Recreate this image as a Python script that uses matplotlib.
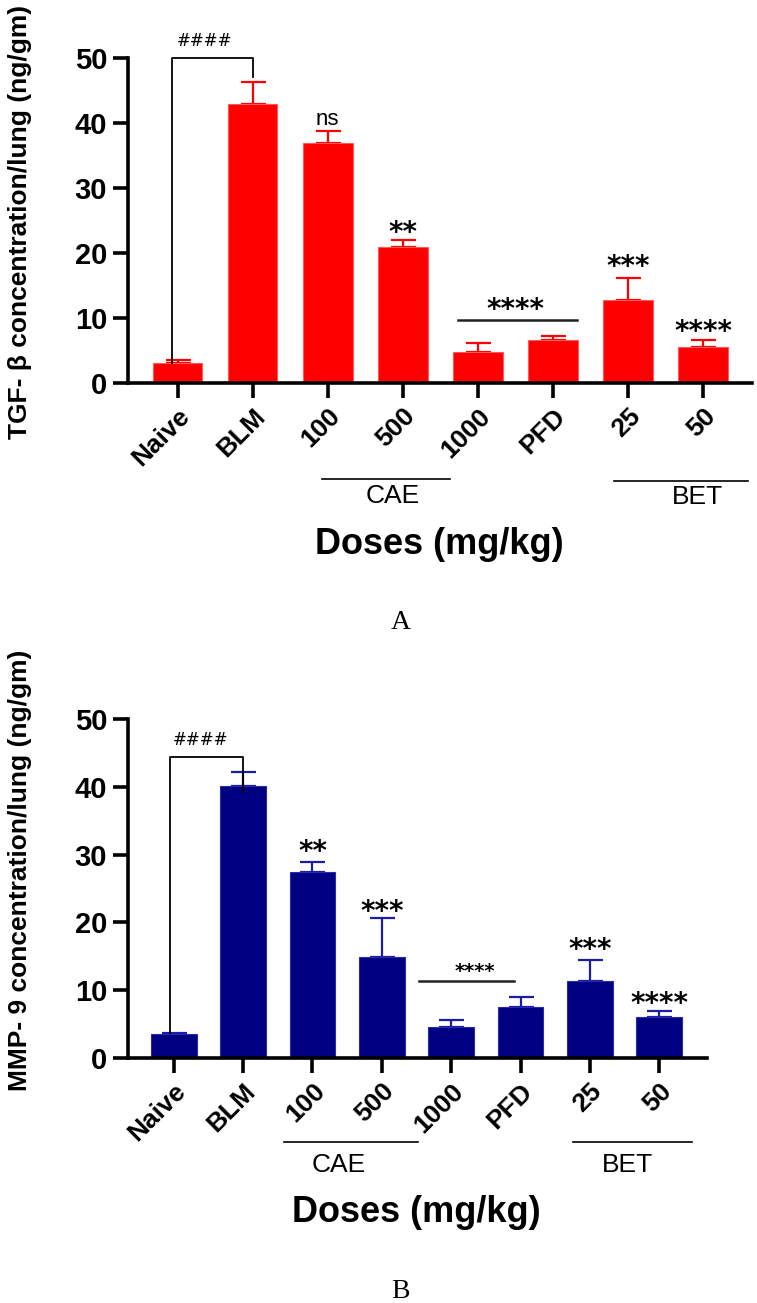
import numpy as np
import matplotlib
matplotlib.use("Agg")
import matplotlib.pyplot as plt

plt.rcParams['font.family'] = ['Liberation Sans', 'DejaVu Sans']

# ---------------------------------------------------------------------
# data
# ---------------------------------------------------------------------
groups = ["Naive", "BLM", "100", "500", "1000", "PFD", "25", "50"]
yticks = [0, 10, 20, 30, 40, 50]

tgf_mean = [3.1, 42.9, 36.9, 20.9, 4.8, 6.6, 12.8, 5.5]
tgf_sem = [0.4, 3.4, 1.9, 1.1, 1.3, 0.7, 3.4, 1.1]
tgf_marks = ["", "", "ns", "**", "", "", "***", "****"]

mmp_mean = [3.5, 40.1, 27.4, 14.9, 4.6, 7.5, 11.3, 6.1]
mmp_sem = [0.2, 2.1, 1.5, 5.7, 1.0, 1.5, 3.2, 0.9]
mmp_marks = ["", "", "**", "***", "", "", "***", "****"]

fig = plt.figure(figsize=(7.57, 13.03), dpi=100)
x = np.arange(len(groups))


def panel(ax, mean, sem, col, edge, ecol, marks, mark_y, xmax):
    ax.bar(x, mean, width=0.66, color=col, edgecolor=edge, linewidth=0.8, zorder=2)
    ax.errorbar(x, mean, yerr=[np.zeros(len(sem)), sem], fmt='none', ecolor=ecol,
                elinewidth=1.6, capsize=9, capthick=1.6, zorder=1)
    ax.set_xlim(-0.66, xmax)
    ax.set_ylim(0, 50)
    ax.set_yticks(yticks)
    ax.set_xticks(x)
    ax.set_xticklabels(groups, rotation=45, ha='right', rotation_mode='anchor',
                       fontsize=19, fontweight='bold')
    for t in ax.get_yticklabels():
        t.set_fontsize(21)
        t.set_fontweight('bold')
    for s in ['top', 'right']:
        ax.spines[s].set_visible(False)
    for s in ['left', 'bottom']:
        ax.spines[s].set_linewidth(2.6)
    ax.tick_params(axis='both', length=11, width=2.6, pad=4)
    for i, m in enumerate(marks):
        if m:
            ax.text(x[i], mark_y[i], m, ha='center', va='center', fontsize=20,
                    family='DejaVu Sans', fontweight='bold', clip_on=False)


#---------------------------------------------------------------------
# A) TGF-beta
#---------------------------------------------------------------------
ax1 = fig.add_axes([0.1691, 0.7061, 0.8243, 0.2494])
panel(ax1, tgf_mean, tgf_sem, '#ff0000', '#ff5a5a', '#ff0000', tgf_marks,
      [0, 0, 40.6, 23.0, 0, 0, 17.9, 7.9], 7.65)
ax1.texts[0].set_fontweight('normal')  # "ns"
ax1.texts[0].set_fontsize(16)
ax1.texts[0].set_family('Liberation Sans')
ax1.plot([-0.08, -0.08, 1.0, 1.0], [3.1, 50, 50, 47.0], color='k', lw=1.3, clip_on=False)
ax1.text(0.36, 52.6, "####", ha='center', va='center', fontsize=12, family='DejaVu Sans',
         clip_on=False)
ax1.plot([3.73, 5.32], [9.7, 9.7], color='#222222', lw=1.8)
ax1.text(4.5, 11.2, "****", ha='center', va='center', fontsize=20,
         family='DejaVu Sans', fontweight='bold')
tr1 = ax1.get_xaxis_transform()
ax1.plot([1.93, 3.63], [-0.295, -0.295], color='k', lw=1.2, transform=tr1, clip_on=False)
ax1.text(2.87, -0.348, "CAE", ha='center', va='center', fontsize=19, transform=tr1)
ax1.plot([5.81, 7.6], [-0.302, -0.302], color='k', lw=1.2, transform=tr1, clip_on=False)
ax1.text(6.92, -0.352, "BET", ha='center', va='center', fontsize=19, transform=tr1)
ax1.text(3.49, -0.498, "Doses (mg/kg)", ha='center', va='center', fontsize=26,
         fontweight='bold', transform=tr1)
fig.text(20 / 757, 1 - 222 / 1303, "TGF- β concentration/lung (ng/gm)", rotation=90,
         ha='center', va='center', fontsize=19, fontweight='bold')
fig.text(401 / 757, 1 - 623 / 1303, "A", ha='center', va='center', fontsize=20,
         family='Liberation Serif')

#---------------------------------------------------------------------
# B) MMP-9
#---------------------------------------------------------------------
ax2 = fig.add_axes([0.1691, 0.188, 0.7649, 0.2602])
panel(ax2, mmp_mean, mmp_sem, '#000080', '#2a2ab0', '#1c1ca6', mmp_marks,
      [0, 0, 30.4, 21.6, 0, 0, 16.0, 7.9], 7.69)
ax2.plot([-0.06, -0.06, 1.0, 1.0], [3.7, 44.4, 44.4, 39.2], color='k', lw=1.3)
ax2.text(0.39, 46.9, "####", ha='center', va='center', fontsize=12, family='DejaVu Sans')
ax2.plot([3.53, 4.9], [11.4, 11.4], color='#222222', lw=1.8)
ax2.text(4.34, 12.8, "****", ha='center', va='center', fontsize=14, family='DejaVu Sans',
         fontweight='bold')
tr2 = ax2.get_xaxis_transform()
ax2.plot([1.585, 3.52], [-0.248, -0.248], color='k', lw=1.2, transform=tr2, clip_on=False)
ax2.text(2.38, -0.316, "CAE", ha='center', va='center', fontsize=19, transform=tr2)
ax2.plot([5.75, 7.48], [-0.248, -0.248], color='k', lw=1.2, transform=tr2, clip_on=False)
ax2.text(6.54, -0.316, "BET", ha='center', va='center', fontsize=19, transform=tr2)
ax2.text(3.5, -0.457, "Doses (mg/kg)", ha='center', va='center', fontsize=26,
         fontweight='bold', transform=tr2)
fig.text(20 / 757, 1 - 870 / 1303, "MMP- 9 concentration/lung (ng/gm)", rotation=90,
         ha='center', va='center', fontsize=19, fontweight='bold')
fig.text(400 / 757, 1 - 1292 / 1303, "B", ha='center', va='center', fontsize=20,
         family='Liberation Serif')

plt.savefig("out.png", dpi=100)
